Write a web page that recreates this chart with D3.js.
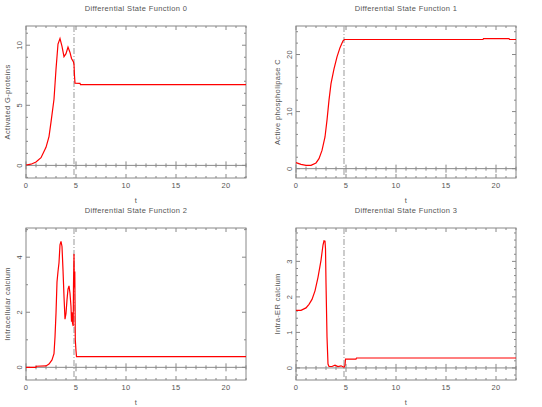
<!DOCTYPE html>
<html>
<head>
<meta charset="utf-8">
<script src="https://d3js.org/d3.v7.min.js"></script>
<style>
  body { margin: 0; background: #fff; }
  svg { display: block; }
  text { font-family: "Liberation Sans", sans-serif; fill: #555; letter-spacing: 0.35px; }
</style>
</head>
<body>
<svg id="chart" width="542" height="407"></svg>
<script>
// time samples and values
const t0 = [0, 0.5, 1, 1.5, 2, 2.3, 2.5, 2.8, 3.0, 3.2, 3.4, 3.6, 3.8, 4.0, 4.2, 4.4, 4.55, 4.75, 4.8, 4.85, 4.9, 5.4, 5.45, 22];
const y0 = [0.03, 0.1, 0.28, 0.64, 1.5, 2.4, 3.6, 5.5, 8.0, 10.1, 10.55, 9.9, 9.05, 9.3, 9.85, 9.4, 8.9, 8.6, 8.4, 7.45, 6.85, 6.83, 6.72, 6.72];

const t1 = [0, 0.5, 1, 1.5, 2, 2.3, 2.6, 2.9, 3.1, 3.3, 3.5, 3.8, 4.1, 4.4, 4.7, 4.85, 18.7, 18.75, 21.3, 21.35, 22];
const y1 = [1.05, 0.76, 0.58, 0.58, 1.0, 1.75, 3.2, 5.55, 8.5, 12, 14.9, 17.5, 19.6, 21.2, 22.4, 22.63, 22.63, 22.8, 22.8, 22.63, 22.63];

const t2 = [0, 1, 1.02, 2, 2.3, 2.6, 2.8, 2.9, 3.0, 3.1, 3.2, 3.3, 3.4, 3.5, 3.6, 3.7, 3.8, 3.9, 4.0, 4.1, 4.2, 4.3, 4.4, 4.5, 4.55, 4.6, 4.65, 4.72, 4.75, 4.8, 4.84, 4.88, 4.93, 5.0, 5.05, 22];
const y2 = [0, 0, 0.04, 0.05, 0.12, 0.27, 0.5, 1.1, 1.96, 3.1, 3.48, 3.8, 4.45, 4.57, 4.39, 3.54, 2.57, 1.75, 1.96, 2.45, 2.84, 2.96, 2.69, 2.2, 1.66, 2.0, 1.6, 1.5, 3.0, 4.12, 2.9, 3.48, 1.0, 0.6, 0.39, 0.39];

const t3 = [0, 0.5, 1, 1.3, 1.6, 1.9, 2.2, 2.5, 2.7, 2.8, 2.9, 2.95, 3.0, 3.1, 3.2, 3.3, 3.6, 3.9, 4.2, 4.5, 4.8, 4.9, 4.95, 6.0, 6.05, 22];
const y3 = [1.62, 1.62, 1.69, 1.79, 1.93, 2.17, 2.55, 3.03, 3.46, 3.58, 3.57, 3.36, 2.4, 0.88, 0.11, 0.04, 0.04, 0.08, 0.04, 0.06, 0.02, 0.07, 0.25, 0.25, 0.28, 0.28];

const titles = ["Differential State Function 0", "Differential State Function 1",
                "Differential State Function 2", "Differential State Function 3"];
const yLabels = ["Activated G-proteins", "Active phospholipase C", "Intracellular calcium", "Intra-ER calcium"];
const yDomains = [[-1.05, 11.6], [-1.64, 25.0], [-0.46, 5.06], [-0.34, 3.94]];
const yMajor = [5, 10, 2, 1];
const yMinor = [1, 2, 1, 0.2];
const xDomain = [0, 22];
const xMajor = 5, xMinor = 1;
const switchTime = 4.8;

const series = [[t0, y0], [t1, y1], [t2, y2], [t3, y3]];

const svg = d3.select("#chart");
const colLeft = [26, 296], rowTop = [26, 228];
const plotW = 220, plotH = 152;
const frame = "#888";
const fs = 7.5;

// evenly spaced tick values, integer-stepped to avoid float drift
function steps(start, stop, step) {
  const n = Math.floor((stop - start) / step + 1e-6);
  return d3.range(n + 1).map(k => +(start + k * step).toFixed(6));
}

series.forEach(([ts, ys], i) => {
  const left = colLeft[i % 2], top = rowTop[Math.floor(i / 2)];
  const g = svg.append("g").attr("transform", `translate(${left},${top})`);

  const x = d3.scaleLinear().domain(xDomain).range([0, plotW]);
  const y = d3.scaleLinear().domain(yDomains[i]).range([plotH, 0]);

  // x ticks on bottom, top and along zero line
  steps(0, xDomain[1], xMinor).forEach(v => {
    const len = v % xMajor === 0 ? 4 : 2;
    const px = x(v);
    g.append("line").attr("x1", px).attr("x2", px).attr("y1", plotH).attr("y2", plotH - len).attr("stroke", frame);
    g.append("line").attr("x1", px).attr("x2", px).attr("y1", 0).attr("y2", len).attr("stroke", frame);
    g.append("line").attr("x1", px).attr("x2", px).attr("y1", y(0) - len).attr("y2", y(0) + len).attr("stroke", frame);
  });

  // y ticks left and right
  const y0tick = Math.ceil(yDomains[i][0] / yMinor[i] - 1e-6) * yMinor[i];
  steps(y0tick, yDomains[i][1], yMinor[i]).forEach(v => {
    const r = v / yMajor[i];
    const len = Math.abs(r - Math.round(r)) < 1e-6 ? 4 : 2;
    const py = y(v);
    g.append("line").attr("x1", 0).attr("x2", len).attr("y1", py).attr("y2", py).attr("stroke", frame);
    g.append("line").attr("x1", plotW).attr("x2", plotW - len).attr("y1", py).attr("y2", py).attr("stroke", frame);
  });

  // zero line and frame
  g.append("line").attr("x1", 0).attr("x2", plotW).attr("y1", y(0)).attr("y2", y(0)).attr("stroke", frame);
  g.append("rect").attr("width", plotW).attr("height", plotH)
    .attr("fill", "none").attr("stroke", frame);

  // switching time marker
  g.append("line")
    .attr("x1", x(switchTime)).attr("x2", x(switchTime))
    .attr("y1", 0).attr("y2", plotH)
    .attr("stroke", "#aaa").attr("stroke-width", 1.2)
    .attr("stroke-dasharray", "6,2,1,2");

  const pts = ts.map((t, k) => [t, ys[k]]);
  g.append("path")
    .datum(pts)
    .attr("fill", "none")
    .attr("stroke", "#f00")
    .attr("stroke-width", 1.2)
    .attr("d", d3.line().x(d => x(d[0])).y(d => y(d[1])));

  // tick labels
  steps(0, xDomain[1], xMajor).forEach(v => {
    g.append("text").attr("x", x(v)).attr("y", plotH + 10)
      .attr("text-anchor", "middle").attr("font-size", fs).text(v);
  });
  const y0major = Math.ceil(yDomains[i][0] / yMajor[i] - 1e-6) * yMajor[i];
  steps(y0major, yDomains[i][1], yMajor[i]).forEach(v => {
    g.append("text")
      .attr("transform", `translate(-4,${y(v)}) rotate(-90)`)
      .attr("text-anchor", "middle").attr("font-size", fs).text(v);
  });

  // titles and axis labels
  g.append("text").attr("x", plotW / 2).attr("y", -15)
    .attr("text-anchor", "middle").attr("font-size", fs).text(titles[i]);
  g.append("text").attr("x", plotW / 2).attr("y", plotH + 25)
    .attr("text-anchor", "middle").attr("font-size", fs).text("t");
  g.append("text")
    .attr("transform", `translate(-16,${plotH / 2}) rotate(-90)`)
    .attr("text-anchor", "middle").attr("font-size", fs).text(yLabels[i]);
});
</script>
</body>
</html>
